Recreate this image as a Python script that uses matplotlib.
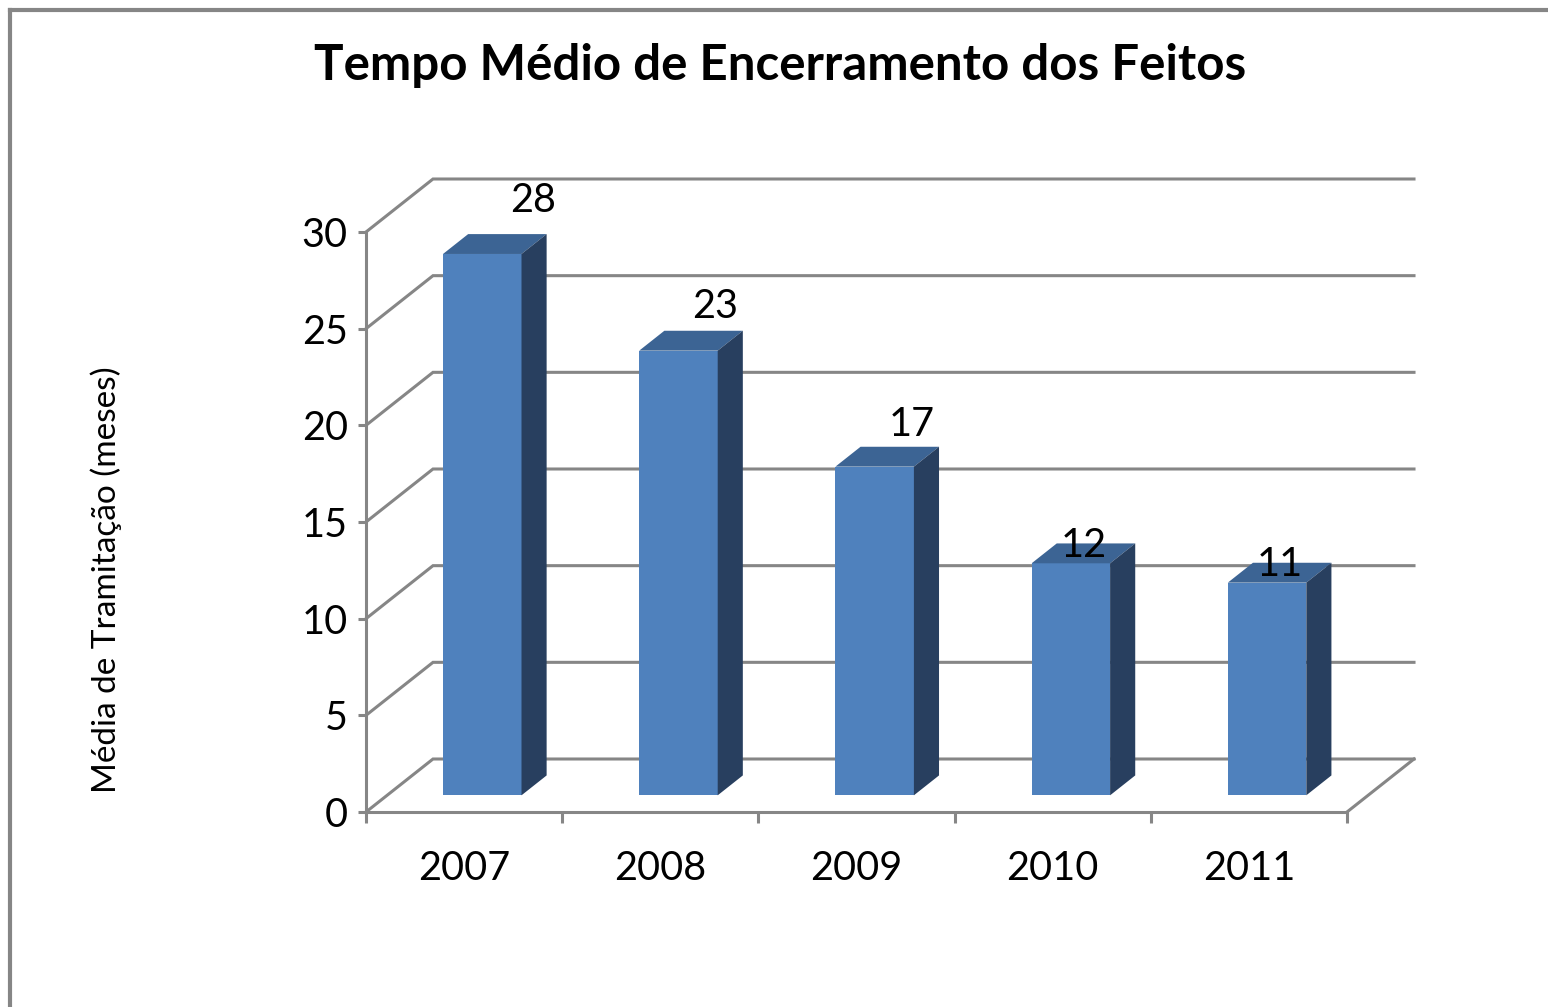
import matplotlib
matplotlib.use("Agg")
import matplotlib.pyplot as plt
from matplotlib.patches import Polygon
from matplotlib.lines import Line2D

# ---- data ----
years = ["2007", "2008", "2009", "2010", "2011"]
values = [28, 23, 17, 12, 11]
y_ticks = [0, 5, 10, 15, 20, 25, 30]
title = "Tempo Médio de Encerramento dos Feitos"
ylabel = "Média de Tramitação (meses)"

# ---- style / layout ----
W, H = 1548, 1007
FONT = "Lato"
GRID = "#868686"
FRONT = "#4F81BD"
TOP = "#3C6494"
SIDE = "#283F5F"
# label offsets in pixels (dx, dy up) relative to top-face centre
label_off = [(38, 44), (24, 34), (25, 32), (1, 8), (0, 8)]

fig = plt.figure(figsize=(W / 100, H / 100), dpi=100)
L, R, B, T = 366, 1347, 812, 232
ax = fig.add_axes([L / W, 1 - B / H, (R - L) / W, (B - T) / H])
n = len(years)
ax.set_xlim(-0.5, n - 0.5)
ax.set_ylim(0, 30)

# depth vector (full depth) in data units
px_x = (R - L) / n
px_y = (B - T) / 30
DX = 67 / px_x
DY = 53 / px_y


def P(x, y, d):
    return (x + d * DX, y + d * DY)


# walls / gridlines
for v in y_ticks:
    pts = [P(-0.5, v, 0), P(-0.5, v, 1), P(n - 0.5, v, 1)]
    ax.add_line(Line2D([p[0] for p in pts], [p[1] for p in pts], color=GRID,
                       lw=2.2, clip_on=False, zorder=1, solid_joinstyle="miter"))
pts = [P(n - 0.5, 0, 0), P(n - 0.5, 0, 1)]
ax.add_line(Line2D([p[0] for p in pts], [p[1] for p in pts], color=GRID,
                   lw=2.2, clip_on=False, zorder=1))

# bars
w = 0.40
d0, d1 = 0.315, 0.69
shift = -0.015
xs = list(range(n))
bx = [x + shift for x in xs]
ax.bar([x + d0 * DX for x in bx], values, width=w, bottom=d0 * DY,
       color=FRONT, zorder=3, clip_on=False, linewidth=0)
for x, v in zip(bx, values):
    top = [P(x - w / 2, v, d0), P(x + w / 2, v, d0), P(x + w / 2, v, d1), P(x - w / 2, v, d1)]
    side = [P(x + w / 2, 0, d0), P(x + w / 2, v, d0), P(x + w / 2, v, d1), P(x + w / 2, 0, d1)]
    ax.add_patch(Polygon(top, closed=True, facecolor=TOP, edgecolor="none", zorder=3, clip_on=False))
    ax.add_patch(Polygon(side, closed=True, facecolor=SIDE, edgecolor="none", zorder=3, clip_on=False))

# data labels
for (x, v), (ox, oy) in zip(zip(bx, values), label_off):
    ax.annotate(str(v), xy=P(x, v, 0.5), xytext=(ox * 0.72, oy * 0.72),
                textcoords="offset points", ha="center", va="center",
                fontsize=28.5, family=FONT, color="black", zorder=5,
                annotation_clip=False)

# axes spines and ticks
for s in ["top", "right"]:
    ax.spines[s].set_visible(False)
for s in ["left", "bottom"]:
    ax.spines[s].set_color(GRID)
    ax.spines[s].set_linewidth(2.2)
    ax.spines[s].set_zorder(2)
ax.set_yticks(y_ticks)
ax.set_yticklabels([str(t) for t in y_ticks], fontsize=28.5, family=FONT)
ax.set_xticks(xs)
ax.set_xticklabels(years, fontsize=28.5, family=FONT)
ax.set_xticks([x - 0.5 for x in range(n + 1)], minor=True)
ax.tick_params(axis="y", direction="out", length=6, width=2.2, color=GRID, pad=7)
ax.tick_params(axis="x", which="major", length=0, pad=27)
ax.tick_params(axis="x", which="minor", direction="out", length=8, width=2.2, color=GRID)
ax.set_facecolor("none")

# title and y label
fig.text(780 / W, 1 - 80 / H, title, ha="center", va="baseline",
         fontsize=35.5, fontweight="bold", family=FONT)
fig.text(106 / W, 1 - 580 / H, ylabel, ha="center", va="center", rotation=90,
         fontsize=24, family=FONT)

# chart border
fig.add_artist(Line2D([9.5 / W, 9.5 / W], [0, 1 - 9.5 / H], color=GRID, lw=3,
                      transform=fig.transFigure))
fig.add_artist(Line2D([9.5 / W, 1], [1 - 9.5 / H, 1 - 9.5 / H], color=GRID, lw=3,
                      transform=fig.transFigure))

fig.savefig("out.png", dpi=100, facecolor="white")
